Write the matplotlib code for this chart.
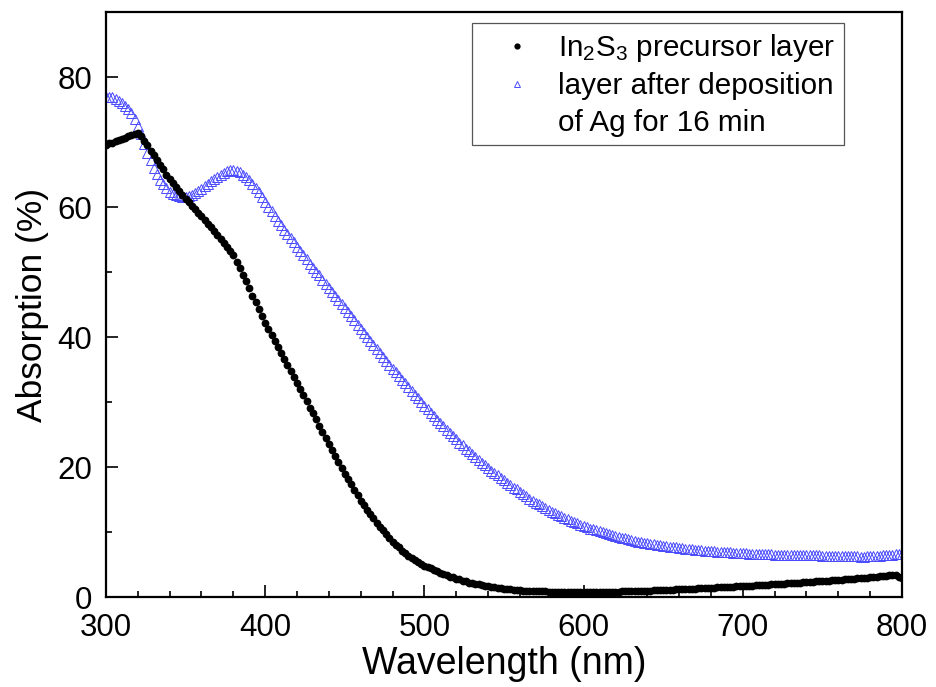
import numpy as np
import matplotlib
matplotlib.use("Agg")
import matplotlib.pyplot as plt
from matplotlib.lines import Line2D
from matplotlib.ticker import MultipleLocator

plt.rcParams['font.family'] = ['Liberation Sans', 'DejaVu Sans']
plt.rcParams['mathtext.fontset'] = 'custom'
plt.rcParams['mathtext.rm'] = 'Liberation Sans'
plt.rcParams['mathtext.it'] = 'Liberation Sans'

# Wavelength grid (nm), 2 nm sampling
wavelength = np.arange(300, 801, 2)

# Absorption (%) of the In2S3 precursor layer
absorption_in2s3 = [
    69.6, 69.8, 69.9, 70.1, 70.3, 70.5, 70.7, 70.9, 71.1, 71.3,
    71.4, 71.0, 70.2, 69.5, 68.7, 68.0, 67.3, 66.5, 65.8, 65.0,
    64.3, 63.7, 63.1, 62.5, 61.9, 61.3, 60.8, 60.2, 59.7, 59.1,
    58.6, 58.0, 57.4, 56.9, 56.3, 55.7, 55.1, 54.5, 53.9, 53.3,
    52.6, 51.6, 50.6, 49.6, 48.6, 47.5, 46.4, 45.4, 44.3, 43.3,
    42.2, 41.3, 40.4, 39.5, 38.5, 37.6, 36.7, 35.8, 34.8, 33.9,
    33.0, 32.1, 31.1, 30.2, 29.2, 28.3, 27.4, 26.4, 25.5, 24.5,
    23.6, 22.7, 21.8, 20.8, 19.9, 19.0, 18.2, 17.4, 16.5, 15.7,
    14.9, 14.2, 13.5, 12.8, 12.2, 11.5, 10.9, 10.3, 9.7, 9.1,
    8.6, 8.1, 7.7, 7.2, 6.8, 6.4, 6.1, 5.8, 5.5, 5.2,
    4.9, 4.7, 4.5, 4.2, 4.0, 3.8, 3.6, 3.4, 3.2, 3.1,
    2.9, 2.8, 2.6, 2.5, 2.3, 2.2, 2.1, 2.0, 1.9, 1.8,
    1.7, 1.6, 1.55, 1.5, 1.4, 1.35, 1.3, 1.25, 1.2, 1.15,
    1.1, 1.07, 1.04, 1.0, 0.98, 0.95, 0.94, 0.93, 0.92, 0.91,
    0.9, 0.89, 0.88, 0.87, 0.86, 0.85, 0.85, 0.85, 0.85, 0.85,
    0.85, 0.85, 0.86, 0.86, 0.87, 0.87, 0.88, 0.88, 0.89, 0.89,
    0.9, 0.91, 0.93, 0.94, 0.96, 0.97, 0.99, 1.0, 1.02, 1.03,
    1.05, 1.07, 1.09, 1.11, 1.13, 1.15, 1.17, 1.19, 1.21, 1.23,
    1.25, 1.28, 1.3, 1.33, 1.35, 1.38, 1.4, 1.43, 1.45, 1.48,
    1.5, 1.53, 1.55, 1.58, 1.6, 1.63, 1.65, 1.68, 1.7, 1.73,
    1.75, 1.78, 1.81, 1.84, 1.87, 1.9, 1.93, 1.96, 1.99, 2.02,
    2.05, 2.08, 2.11, 2.14, 2.17, 2.2, 2.23, 2.26, 2.29, 2.32,
    2.35, 2.39, 2.42, 2.46, 2.49, 2.53, 2.56, 2.6, 2.63, 2.67,
    2.7, 2.74, 2.78, 2.82, 2.86, 2.9, 2.94, 2.98, 3.02, 3.06,
    3.1, 3.15, 3.2, 3.25, 3.3, 3.35, 3.42, 3.5, 3.45, 3.2,
    3.0,
]

# Absorption (%) of the layer after Ag deposition for 16 min
absorption_ag16 = [
    77.0, 77.0, 76.9, 76.7, 76.3, 76.0, 75.6, 75.1, 74.5, 73.6,
    72.5, 71.2, 69.7, 68.4, 67.2, 66.0, 65.1, 64.2, 63.5, 62.9,
    62.4, 62.1, 61.9, 61.7, 61.6, 61.6, 61.7, 61.9, 62.2, 62.5,
    62.8, 63.2, 63.6, 64.0, 64.4, 64.7, 65.0, 65.3, 65.5, 65.7,
    65.7, 65.6, 65.4, 65.0, 64.6, 64.2, 63.6, 63.0, 62.3, 61.6,
    60.8, 60.1, 59.4, 58.7, 57.9, 57.2, 56.5, 55.9, 55.2, 54.6,
    53.9, 53.3, 52.6, 52.0, 51.3, 50.7, 50.1, 49.5, 48.8, 48.2,
    47.6, 47.0, 46.4, 45.7, 45.1, 44.5, 43.9, 43.2, 42.6, 41.9,
    41.3, 40.7, 40.1, 39.4, 38.8, 38.2, 37.6, 37.0, 36.4, 35.8,
    35.2, 34.6, 34.0, 33.5, 32.9, 32.3, 31.7, 31.2, 30.6, 30.1,
    29.5, 29.0, 28.4, 27.9, 27.3, 26.8, 26.3, 25.8, 25.3, 24.8,
    24.3, 23.8, 23.4, 22.9, 22.5, 22.0, 21.6, 21.2, 20.7, 20.3,
    19.9, 19.5, 19.1, 18.8, 18.4, 18.0, 17.6, 17.3, 16.9, 16.6,
    16.2, 15.9, 15.6, 15.2, 14.9, 14.6, 14.3, 14.0, 13.8, 13.5,
    13.2, 13.0, 12.7, 12.5, 12.2, 12.0, 11.8, 11.6, 11.4, 11.2,
    11.0, 10.8, 10.6, 10.5, 10.3, 10.2, 10.0, 9.9, 9.7, 9.6,
    9.4, 9.3, 9.2, 9.1, 9.0, 8.9, 8.7, 8.6, 8.5, 8.4,
    8.3, 8.2, 8.15, 8.1, 8.0, 7.95, 7.9, 7.8, 7.75, 7.7,
    7.6, 7.55, 7.5, 7.45, 7.4, 7.35, 7.3, 7.25, 7.2, 7.15,
    7.1, 7.07, 7.04, 7.0, 6.98, 6.95, 6.92, 6.89, 6.86, 6.83,
    6.8, 6.78, 6.76, 6.74, 6.72, 6.7, 6.68, 6.66, 6.64, 6.62,
    6.6, 6.59, 6.58, 6.57, 6.56, 6.55, 6.54, 6.53, 6.52, 6.51,
    6.5, 6.49, 6.48, 6.47, 6.46, 6.45, 6.44, 6.43, 6.42, 6.41,
    6.4, 6.39, 6.38, 6.37, 6.35, 6.33, 6.31, 6.3, 6.3, 6.32,
    6.35, 6.38, 6.41, 6.44, 6.47, 6.5, 6.55, 6.6, 6.64, 6.68,
    6.7,
]

label_in2s3 = r"In$_2$S$_3$ precursor layer"
label_ag_line1 = "layer after deposition"
label_ag_line2 = "of Ag for 16 min"

blue = "#4a4aff"

fig = plt.figure(figsize=(9.36, 6.87), dpi=100)
ax = fig.add_axes([0.1132, 0.1303, 0.8505, 0.8522])

ax.plot(wavelength, absorption_ag16, linestyle="none", marker="^",
        markersize=7, markerfacecolor="none", markeredgecolor=blue,
        markeredgewidth=0.7, zorder=2)
ax.plot(wavelength, absorption_in2s3, linestyle="none", marker="o",
        markersize=5.6, color="black", markeredgewidth=0, zorder=3)

ax.set_xlim(300, 800)
ax.set_ylim(0, 90)
ax.xaxis.set_major_locator(MultipleLocator(100))
ax.xaxis.set_minor_locator(MultipleLocator(20))
ax.yaxis.set_major_locator(MultipleLocator(20))
ax.yaxis.set_minor_locator(MultipleLocator(10))
ax.tick_params(which="both", direction="in", top=False, right=False,
               labelsize=22.5, width=1.2)
ax.tick_params(axis="x", pad=11)
ax.tick_params(axis="y", pad=10)
ax.tick_params(which="major", length=8.5)
ax.tick_params(which="minor", length=4.5)
for s in ax.spines.values():
    s.set_linewidth(1.6)

ax.set_xlabel("Wavelength (nm)", fontsize=27, labelpad=2)
ax.set_ylabel("Absorption (%)", fontsize=25.5, labelpad=6)

handles = [
    Line2D([], [], linestyle="none", marker="o", color="black",
           markersize=4.5, markeredgewidth=0),
    Line2D([], [], linestyle="none", marker="^", markerfacecolor="none",
           markeredgecolor=blue, markersize=4.5, markeredgewidth=0.7),
    Line2D([], [], linestyle="none", marker=None),
]
leg = ax.legend(handles, [label_in2s3, label_ag_line1, label_ag_line2],
                loc="upper left", bbox_to_anchor=(0.46, 0.981),
                borderaxespad=0, fontsize=21.3, frameon=True, fancybox=False,
                handlelength=2.45, handletextpad=0.15, borderpad=0.3,
                labelspacing=0.28)
frame = leg.get_frame()
frame.set_edgecolor("#555555")
frame.set_linewidth(0.9)
frame.set_facecolor("white")
frame.set_alpha(1)

fig.savefig("out.png", dpi=100)
